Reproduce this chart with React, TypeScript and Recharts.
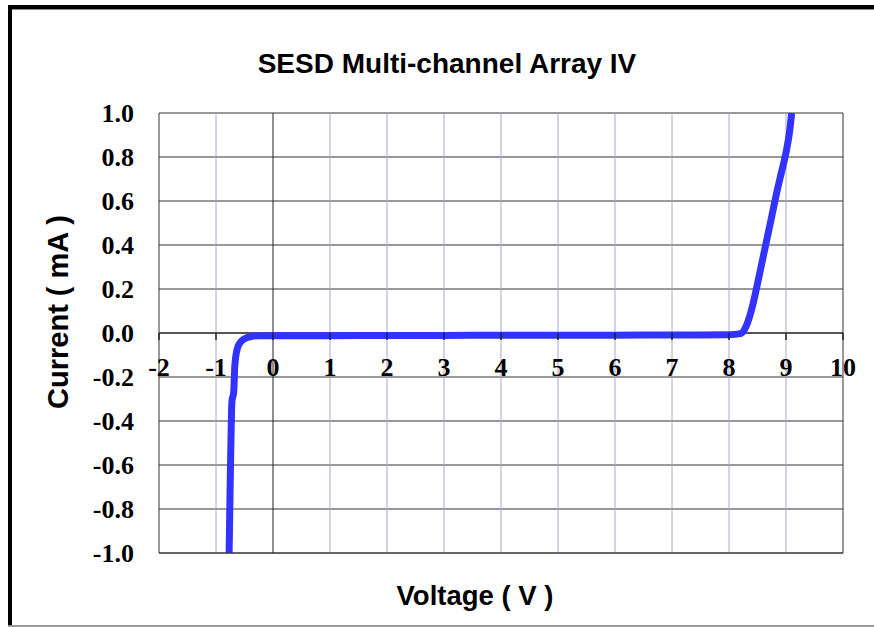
import React from 'react';
import { LineChart, Line, XAxis, YAxis, CartesianGrid, ReferenceLine, ReferenceDot, Label } from 'recharts';

const titleText = 'SESD Multi-channel Array IV';
const xTitle = 'Voltage ( V )';
const yTitle = 'Current ( mA )';

const xTicks = [-2, -1, 0, 1, 2, 3, 4, 5, 6, 7, 8, 9, 10];
const yTicks = [-1.0, -0.8, -0.6, -0.4, -0.2, 0.0, 0.2, 0.4, 0.6, 0.8, 1.0];

const voltage = [-0.77, -0.755, -0.74, -0.72, -0.69, -0.67, -0.63, -0.58, -0.52, -0.45, -0.35, -0.25, 0, 1, 2, 3, 4, 5, 6, 7, 7.5, 8, 8.2, 8.27, 8.33, 8.4, 8.48, 8.57, 8.66, 8.75, 8.83, 8.92, 9.0, 9.06, 9.1];
const current = [-1.0, -0.75, -0.52, -0.31, -0.27, -0.15, -0.075, -0.045, -0.03, -0.02, -0.014, -0.012, -0.012, -0.012, -0.011, -0.011, -0.01, -0.01, -0.01, -0.009, -0.009, -0.008, -0.003, 0.015, 0.05, 0.11, 0.2, 0.31, 0.42, 0.53, 0.63, 0.73, 0.82, 0.91, 1.0];

const data = voltage.map((v, i) => ({ v, i: current[i] }));

const serif = '"Liberation Serif", "Times New Roman", serif';
const sans = '"Liberation Sans", Arial, sans-serif';

const XTickMark = (label: number) => (props: any) => {
  const { cx, cy } = props;
  return (
    <g>
      <line x1={cx} y1={cy} x2={cx} y2={cy + 7} stroke="#222" strokeWidth={1.5} />
      <text x={cx} y={cy + 43} textAnchor="middle" fontFamily={serif} fontWeight="bold" fontSize={26} fill="#000">
        {label}
      </text>
    </g>
  );
};

export default function App() {
  return (
    <div style={{ position: 'absolute', left: 0, top: 0, width: 874, height: 627, background: '#fff', overflow: 'hidden' }}>
      <div style={{ position: 'absolute', left: 8, top: 5, width: 866, height: 4, background: '#000' }} />
      <div style={{ position: 'absolute', left: 8, top: 9, width: 866, height: 1, background: '#888' }} />
      <div style={{ position: 'absolute', left: 8, top: 5, width: 4, height: 622, background: '#000' }} />
      <div style={{ position: 'absolute', left: 8, top: 625, width: 866, height: 2, background: '#999' }} />
      <div
        style={{
          position: 'absolute',
          left: 447,
          top: 50,
          transform: 'translateX(-50%)',
          whiteSpace: 'nowrap',
          fontFamily: sans,
          fontWeight: 'bold',
          fontSize: 28,
          lineHeight: '28px',
          color: '#000',
        }}
      >
        {titleText}
      </div>
      <div style={{ position: 'absolute', left: 0, top: 0 }}>
        <LineChart width={874} height={627} data={data} margin={{ top: 113, right: 31, bottom: 0, left: 0 }}>
          <CartesianGrid vertical={false} stroke="#333" strokeWidth={1} />
          <XAxis
            dataKey="v"
            type="number"
            domain={[-2, 10]}
            ticks={xTicks}
            tick={false}
            tickLine={false}
            axisLine={{ stroke: '#333' }}
            height={74}
            allowDataOverflow
          >
            <Label
              content={(p: any) => {
                const vb = p.viewBox;
                return (
                  <text x={vb.x + vb.width / 2 - 26} y={vb.y + 52} textAnchor="middle" fontFamily={sans} fontWeight="bold" fontSize={27.5} fill="#000">
                    {xTitle}
                  </text>
                );
              }}
            />
          </XAxis>
          <YAxis
            type="number"
            domain={[-1, 1]}
            ticks={yTicks}
            width={159}
            tickLine={false}
            tickSize={0}
            tickMargin={25}
            axisLine={{ stroke: '#333' }}
            tickFormatter={(v: number) => v.toFixed(1)}
            tick={{ fontFamily: serif, fontWeight: 'bold', fontSize: 26, fill: '#000' }}
            allowDataOverflow
          >
            <Label
              content={(p: any) => {
                const vb = p.viewBox;
                const x = vb.x + 58;
                const y = vb.y + vb.height / 2 - 21;
                return (
                  <text x={x} y={y} transform={`rotate(-90, ${x}, ${y})`} dy={10} textAnchor="middle" fontFamily={sans} fontWeight="bold" fontSize={29} fill="#000">
                    {yTitle}
                  </text>
                );
              }}
            />
          </YAxis>
          {xTicks
            .filter((t) => t !== 0 && t !== xTicks[0] && t !== xTicks[xTicks.length - 1])
            .map((t) => (
              <ReferenceLine key={`g${t}`} x={t} stroke="#a8a8d0" strokeWidth={1} />
            ))}
          <ReferenceLine x={0} stroke="#222" strokeWidth={1} />
          <ReferenceLine x={10} stroke="#333" strokeWidth={1} />
          <ReferenceLine y={0} stroke="#111" strokeWidth={1} />
          {xTicks.map((t) => (
            <ReferenceDot key={t} x={t} y={0} r={0} shape={XTickMark(t)} ifOverflow="visible" />
          ))}
          <Line
            type="monotone"
            dataKey="i"
            stroke="#3333ff"
            strokeWidth={7}
            dot={false}
            strokeLinejoin="round"
            isAnimationActive={false}
          />
        </LineChart>
      </div>
    </div>
  );
}
